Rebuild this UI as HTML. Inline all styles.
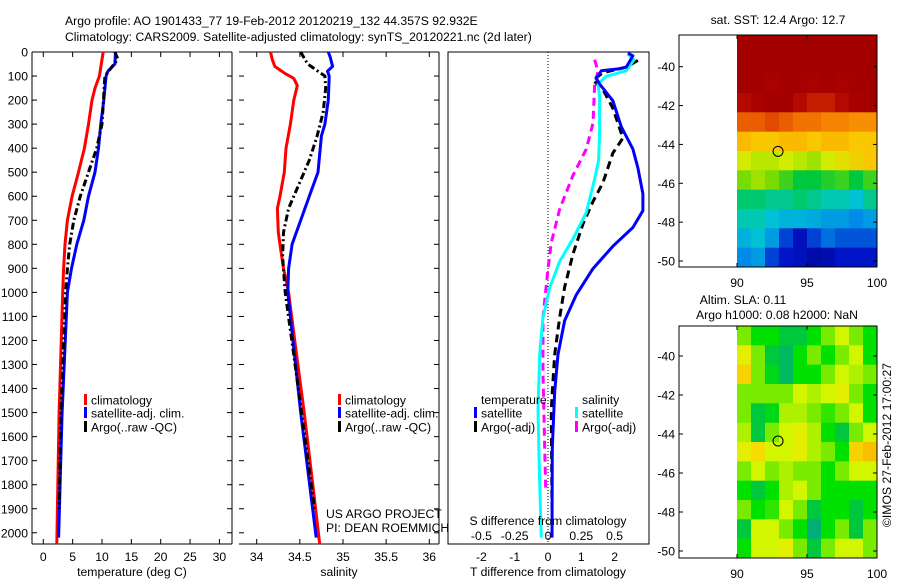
<!DOCTYPE html>
<html><head><meta charset="utf-8">
<style>
html,body{margin:0;padding:0;background:#fff;}
svg{display:block;font-family:"Liberation Sans",Arial,sans-serif;}
text{font-size:12.2px;fill:#000;}
</style></head>
<body>
<svg id="fig" width="900" height="580" viewBox="0 0 900 580" xmlns="http://www.w3.org/2000/svg">
<rect x="0" y="0" width="900" height="580" fill="#fff"/>
<text x="65" y="25">Argo profile: AO 1901433_77 19-Feb-2012 20120219_132 44.357S 92.932E</text>
<text x="65" y="41">Climatology: CARS2009. Satellite-adjusted climatology: synTS_20120221.nc (2d later)</text>
<g id="p1"></g>
<g id="p2"></g>
<g id="p3"></g>
<g id="m1"></g>
<g id="m2"></g>
<text x="0" y="0" transform="translate(891,445) rotate(-90)" text-anchor="middle">©IMOS 27-Feb-2012 17:00:27</text>
</svg>
<script>
// ---------- data ----------
const tempClimDepth = [0,100,150,200,300,400,500,600,700,800,900,1000,1500,2047];
const tempClim      = [10.2,9.55,8.8,8.3,7.7,7.0,6.0,4.9,4.1,3.7,3.45,3.3,2.7,2.3];
const tempSatDepth  = [0,50,80,100,200,300,400,500,600,700,800,900,1000,1500,2020];
const tempSat       = [12.3,12.2,11.0,10.7,10.3,9.8,9.4,8.8,7.7,6.9,5.7,4.8,4.1,3.2,2.6];
const tempArgoDepth = [0,30,100,300,400,500,600,700,800,900,1000,1500,1900];
const tempArgo      = [12.2,12.7,10.5,10.0,9.1,7.7,6.3,5.2,4.5,4.1,3.8,3.0,2.7];

const salClimDepth = [0,30,60,90,110,140,200,300,400,500,600,650,750,850,900,1000,1200,1500,1800,2047];
const salClim      = [34.16,34.18,34.21,34.33,34.43,34.47,34.43,34.39,34.34,34.32,34.27,34.24,34.25,34.29,34.31,34.37,34.44,34.55,34.65,34.73];
const salSatDepth  = [0,20,60,80,100,200,300,350,500,600,700,800,900,1000,1500,2020];
const salSat       = [34.83,34.85,34.88,34.82,34.84,34.83,34.79,34.75,34.71,34.61,34.51,34.41,34.37,34.36,34.51,34.69];
const salArgoDepth = [0,50,100,150,250,350,450,550,650,750,850,950,1000,1500,1900];
const salArgo      = [34.51,34.59,34.79,34.80,34.77,34.70,34.61,34.49,34.37,34.31,34.30,34.32,34.33,34.52,34.67];

const dTSatDepth = [5,16,63,70,78,110,133,203,311,404,482,590,660,730,808,901,1010,1118,1258,1413,1646,2020];
const dTSat      = [2.4,2.55,2.35,2.15,1.6,1.45,1.55,1.95,2.2,2.55,2.7,2.85,2.85,2.55,1.95,1.35,0.85,0.5,0.3,0.2,0.13,0.12];
const dTArgoDepth = [35,63,86,117,156,234,358,420,544,622,715,840,979,1103,1258,1413,1490,1900];
const dTArgo      = [2.7,2.35,1.65,1.35,1.65,1.95,2.25,1.95,1.65,1.35,1.05,0.75,0.5,0.35,0.2,0.13,0.1,0.12];
const dSSatDepth = [9,32,78,101,133,187,342,451,529,668,777,871,980,1104,1258,1490,1800,2020];
const dSSat      = [0.6,0.645,0.5875,0.4375,0.375,0.3875,0.3875,0.38,0.35,0.2875,0.1875,0.0875,0.0125,-0.0375,-0.0625,-0.075,-0.0625,-0.05];
const dSArgoDepth = [32,78,141,296,404,513,653,793,901,1104,1336,1646,1817];
const dSArgo      = [0.35,0.375,0.35,0.3375,0.2875,0.1875,0.0875,0.025,0,-0.0375,-0.0375,-0.025,-0.0175];

const sstGrid = [
[1,1,1,1,1,1,1,1,1,1],
[1,1,1,1,1,1,1,1,1,1],
[1,1,0.97,1,1,0.97,1,0.97,1,1],
[0.95,0.97,1,1,0.95,0.93,0.93,0.95,0.97,1],
[0.85,0.85,0.88,0.85,0.82,0.82,0.8,0.8,0.78,0.78],
[0.72,0.7,0.7,0.72,0.72,0.7,0.72,0.72,0.7,0.7],
[0.62,0.6,0.6,0.62,0.6,0.58,0.62,0.65,0.68,0.7],
[0.55,0.58,0.55,0.5,0.45,0.45,0.48,0.5,0.45,0.5],
[0.42,0.42,0.4,0.4,0.42,0.4,0.38,0.38,0.35,0.4],
[0.38,0.38,0.35,0.33,0.33,0.32,0.3,0.3,0.28,0.3],
[0.33,0.35,0.3,0.2,0.12,0.2,0.25,0.22,0.22,0.22],
[0.28,0.3,0.2,0.15,0.12,0.08,0.1,0.15,0.15,0.15]];
const slaGrid = [
[0.55,0.5,0.5,0.45,0.45,0.5,0.55,0.6,0.55,0.5],
[0.62,0.55,0.45,0.42,0.5,0.55,0.5,0.55,0.6,0.5],
[0.66,0.55,0.48,0.42,0.5,0.5,0.55,0.6,0.58,0.55],
[0.55,0.55,0.55,0.55,0.6,0.58,0.6,0.62,0.55,0.5],
[0.55,0.45,0.48,0.58,0.58,0.55,0.52,0.55,0.6,0.5],
[0.58,0.45,0.55,0.6,0.62,0.58,0.5,0.45,0.55,0.6],
[0.62,0.65,0.6,0.6,0.62,0.58,0.55,0.5,0.66,0.68],
[0.55,0.6,0.55,0.58,0.55,0.55,0.5,0.55,0.6,0.6],
[0.5,0.45,0.5,0.58,0.6,0.55,0.5,0.5,0.5,0.5],
[0.55,0.5,0.52,0.6,0.55,0.45,0.5,0.5,0.45,0.5],
[0.45,0.6,0.6,0.55,0.5,0.4,0.5,0.55,0.45,0.55],
[0.5,0.6,0.6,0.62,0.55,0.45,0.55,0.6,0.6,0.55]];
const depthTicks = [0,100,200,300,400,500,600,700,800,900,1000,1100,1200,1300,1400,1500,1600,1700,1800,1900,2000];
const tempTicks = [0,5,10,15,20,25,30];
const salTicks = [34,34.5,35,35.5,36];
const salTickLabels = ['34','34.5','35','35.5','36'];
const dTTicks = [-2,-1,0,1,2];
const dSTicks = [-0.5,-0.25,0,0.25,0.5];
const dSTickLabels = ['-0.5','-0.25','0','0.25','0.5'];
const latTicks = [-40,-42,-44,-46,-48,-50];
const lonTicks = [90,95,100];
const floatLon = 92.932, floatLat = -44.357;

// ---------- helpers ----------
const NS='http://www.w3.org/2000/svg';
function mk(parent,tag,attrs,txt){const e=document.createElementNS(NS,tag);for(const k in attrs)e.setAttribute(k,attrs[k]);if(txt!==undefined)e.textContent=txt;parent.appendChild(e);return e;}
const top0=52, bot=544;
const yD = d => top0 + d*0.2404;
const xT = v => 43.3 + v*5.87;
const xS = v => 256.7 + (v-34)*86.3;
const xDT = v => 548 + v*33.3;
const xDS = v => 548 + v*133.2;

function frame(g,x0,x1,leftLine){
  mk(g,'line',{x1:x0,y1:top0,x2:x1,y2:top0,stroke:'#000','stroke-width':1});
  mk(g,'line',{x1:x0,y1:bot,x2:x1,y2:bot,stroke:'#000','stroke-width':1});
  mk(g,'line',{x1:x1,y1:top0,x2:x1,y2:bot,stroke:'#000','stroke-width':1});
  if(leftLine) mk(g,'line',{x1:x0,y1:top0,x2:x0,y2:bot,stroke:'#000','stroke-width':1});
}
function line(g,xs,ds,xf,color,dash,name,w){
  const p=xs.map((v,i)=>xf(v).toFixed(1)+','+yD(ds[i]).toFixed(1)).join(' ');
  const e=mk(g,'polyline',{points:p,fill:'none',stroke:color,'stroke-width':w||3,'stroke-linejoin':'round'});
  if(dash) e.setAttribute('stroke-dasharray',dash);
  
  
}
function depthTicksDraw(g,x0,x1,labels){
  depthTicks.forEach(d=>{
    const y=yD(d);
    mk(g,'line',{x1:x0,y1:y,x2:x0+5,y2:y,stroke:'#000'});
    mk(g,'line',{x1:x1-5,y1:y,x2:x1,y2:y,stroke:'#000'});
    if(labels){const t=mk(g,'text',{x:x0-4,y:y+4.5,'text-anchor':'end'},String(d));
      
      }
  });
}
function xTicks(g,ticks,labels,xf,ly){
  ticks.forEach((v,i)=>{
    const x=xf(v);
    mk(g,'line',{x1:x,y1:bot,x2:x,y2:bot-5,stroke:'#000'});
    mk(g,'line',{x1:x,y1:top0,x2:x,y2:top0+5,stroke:'#000'});
    const t=mk(g,'text',{x:x,y:ly,'text-anchor':'middle'},labels[i]);
    
    
  });
}
function legendEntry(g,x,y,color,label){
  const r=mk(g,'rect',{x:x,y:y-6,width:3,height:11,fill:color});
  
  
  const t=mk(g,'text',{x:x+7,y:y+4.5},label);
  
  
}

// ---------- panel 1 ----------
const p1=document.getElementById('p1');
frame(p1,32,232,true);
depthTicksDraw(p1,32,232,true);
xTicks(p1,tempTicks,tempTicks.map(String),xT,561);
line(p1,tempClim,tempClimDepth,xT,'#f00',null,'temp-climatology-line');
line(p1,tempSat,tempSatDepth,xT,'#00f',null,'temp-satellite-line');
line(p1,tempArgo,tempArgoDepth,xT,'#000','7,3,2,3','temp-argo-line');
mk(p1,'text',{x:132,y:576,'text-anchor':'middle',},'temperature (deg C)');
legendEntry(p1,84,400,'#f00','climatology');
legendEntry(p1,84,413,'#00f','satellite-adj. clim.');
legendEntry(p1,84,427,'#000','Argo(..raw -QC)');

// ---------- panel 2 ----------
const p2=document.getElementById('p2');
frame(p2,239,439,false);
depthTicksDraw(p2,239,439,false);
xTicks(p2,salTicks,salTickLabels,xS,561);
line(p2,salClim,salClimDepth,xS,'#f00',null,'sal-climatology-line');
line(p2,salSat,salSatDepth,xS,'#00f',null,'sal-satellite-line');
line(p2,salArgo,salArgoDepth,xS,'#000','7,3,2,3','sal-argo-line');
mk(p2,'text',{x:339,y:576,'text-anchor':'middle',},'salinity');
legendEntry(p2,338,400,'#f00','climatology');
legendEntry(p2,338,413,'#00f','satellite-adj. clim.');
legendEntry(p2,338,427,'#000','Argo(..raw -QC)');
mk(p2,'text',{x:326,y:518,},'US ARGO PROJECT');
mk(p2,'text',{x:326,y:532,},'PI: DEAN ROEMMICH');

// ---------- panel 3 ----------
const p3=document.getElementById('p3');
mk(p3,'rect',{x:448,y:top0,width:201,height:bot-top0,fill:'none',stroke:'#000'});
mk(p3,'line',{x1:548,y1:top0,x2:548,y2:bot,stroke:'#000','stroke-dasharray':'1,2',});
dTTicks.forEach(v=>{const t=mk(p3,'text',{x:xDT(v),y:561,'text-anchor':'middle'},String(v));
  });
dSTicks.forEach((v,i)=>{const t=mk(p3,'text',{x:xDS(v),y:540,'text-anchor':'middle'},dSTickLabels[i]);
  });
line(p3,dSArgo,dSArgoDepth,xDS,'#f0f','8,5','s-diff-argo-line');
line(p3,dTArgo,dTArgoDepth,xDT,'#000','8,5','t-diff-argo-line');
line(p3,dSSat,dSSatDepth,xDS,'#0ff',null,'s-diff-satellite-line');
line(p3,dTSat,dTSatDepth,xDT,'#00f',null,'t-diff-satellite-line');
mk(p3,'text',{x:548,y:525,'text-anchor':'middle',},'S difference from climatology');
mk(p3,'text',{x:548,y:576,'text-anchor':'middle',},'T difference from climatology');
mk(p3,'text',{x:481,y:404,},'temperature');
mk(p3,'text',{x:582,y:404,},'salinity');
legendEntry(p3,474,413,'#00f','satellite');
legendEntry(p3,474,427,'#000','Argo(-adj)');
legendEntry(p3,575,413,'#0ff','satellite');
legendEntry(p3,575,427,'#f0f','Argo(-adj)');

// ---------- maps ----------
function interp(stops,v){
  if(v<=stops[0][0]) return stops[0][1];
  for(let i=1;i<stops.length;i++){
    if(v<=stops[i][0]){const a=stops[i-1],b=stops[i],t=(v-a[0])/(b[0]-a[0]);
      return a[1].map((c,k)=>Math.round(c+(b[1][k]-c)*t));}
  }
  return stops[stops.length-1][1];
}
const sstStops=[[0,[0,0,130]],[0.15,[0,20,200]],[0.28,[0,140,230]],[0.36,[0,200,210]],[0.45,[0,200,60]],[0.55,[120,220,0]],[0.62,[210,235,0]],[0.7,[250,200,0]],[0.8,[245,130,0]],[0.9,[220,60,0]],[0.96,[170,0,0]],[1,[165,0,0]]];
const slaStops=[[0.4,[0,175,120]],[0.45,[0,200,60]],[0.5,[0,225,0]],[0.55,[120,235,0]],[0.6,[210,245,0]],[0.64,[245,230,0]],[0.68,[250,190,0]]];
function cmap(stops,v){const c=interp(stops,v);return 'rgb('+c.join(',')+')';}
function map(g,grid,stops,yTop,yBot,lat40,lat50,name,titles){
  const xL=679,xR=877;
  const xLon = lon => 737 + (lon-90)*14;
  const yLat = lat => lat40 + (-40-lat)*(lat50-lat40)/10;
  const latTop=-40-(yTop-lat40)/((lat50-lat40)/10);
  const rows=grid.length, cols=grid[0].length;
  const latSpan=(latTop - (-40-(yBot-lat40)/((lat50-lat40)/10)))/rows;
  for(let r=0;r<rows;r++)for(let c=0;c<cols;c++){
    const x0=xLon(90+c), x1=xLon(91+c);
    const y0=yLat(latTop-r*latSpan), y1=yLat(latTop-(r+1)*latSpan);
    const cell=mk(g,'rect',{x:x0.toFixed(1),y:y0.toFixed(1),width:(x1-x0+0.5).toFixed(1),height:(y1-y0+0.5).toFixed(1),fill:cmap(stops,grid[r][c])});
    
    
  }
  mk(g,'rect',{x:xL,y:yTop,width:xR-xL,height:yBot-yTop,fill:'none',stroke:'#000'});
  latTicks.forEach(l=>{const y=yLat(l);
    mk(g,'line',{x1:xL,y1:y,x2:xL+4,y2:y,stroke:'#000'});
    mk(g,'line',{x1:xR-4,y1:y,x2:xR,y2:y,stroke:'#000'});
    const t=mk(g,'text',{x:xL-4,y:y+4.5,'text-anchor':'end'},String(l));
    });
  lonTicks.forEach(l=>{const x=xLon(l);
    mk(g,'line',{x1:x,y1:yBot,x2:x,y2:yBot-4,stroke:'#000'});
    mk(g,'line',{x1:x,y1:yTop,x2:x,y2:yTop+4,stroke:'#000'});
    const t=mk(g,'text',{x:x,y:yBot+20,'text-anchor':'middle'},String(l));
    });
  const m=mk(g,'ellipse',{cx:xLon(floatLon),cy:yLat(floatLat),rx:5,ry:5,fill:'none',stroke:'#000'});
  
  
  titles.forEach(t=>{const e=mk(g,'text',{x:t[0],y:t[1],'text-anchor':'middle'},t[2]);
    });
}
map(document.getElementById('m1'),sstGrid,sstStops,35,267,66.7,261,'sst',[[778,24,'sat. SST: 12.4 Argo: 12.7']]);
map(document.getElementById('m2'),slaGrid,slaStops,326,558,356,551,'sla',[[743,304,'Altim. SLA: 0.11'],[777,319,'Argo h1000: 0.08 h2000: NaN']]);
</script>
</body></html>
